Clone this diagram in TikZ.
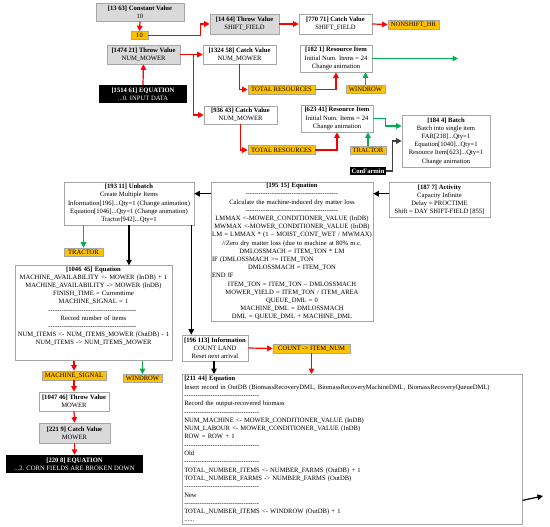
\documentclass[tikz,border=0pt]{standalone}
\usepackage{fontspec}
\setmainfont{Liberation Serif}
\usetikzlibrary{arrows.meta,calc}
\definecolor{boxgray}{HTML}{D9D9D9}
\definecolor{edgegray}{HTML}{A6A6A6}
\definecolor{tagorange}{HTML}{FFC000}
\definecolor{arrred}{HTML}{FF0000}
\definecolor{arrgreen}{HTML}{00B050}
\definecolor{arrdark}{HTML}{404040}
\newcommand\dl[1]{\noindent\hbox to #1pt{\leaders\hbox{-}\hfill}}
\newcommand\myleftln[1]{\noindent\hbox to \hsize{#1\hfil}}
\tikzset{
  sz/.style 2 args={minimum width=#1pt,minimum height=#2pt},
  base/.style={draw=edgegray, line width=0.6pt, inner sep=1pt, align=center,
    font=\fontsize{6.6}{8.2}\selectfont},
  gbox/.style={base, fill=boxgray},
  wbox/.style={base, fill=white},
  tag/.style={base, fill=tagorange, inner sep=0.5pt},
  bbox/.style={fill=black, text=white, inner sep=1pt, align=center,
    font=\fontsize{6.6}{8.2}\selectfont},
  conn/.style={line width=1.2pt, -{Triangle[length=5.5pt,width=5.5pt]}},
  ra/.style={conn, draw=arrred},
  ga/.style={conn, draw=arrgreen},
  ka/.style={conn, draw=black},
  da/.style={conn, draw=arrdark},
}
\begin{document}
\begin{tikzpicture}[x=1pt,y=-1pt]
\useasboundingbox (0,0) rectangle (550,527);
% top chain
\node[gbox, sz={88}{18}] (cv) at (140,12) {\textbf{[13 63] Constant Value}\\10};
\node[tag, sz={17}{8}] (ten) at (139.5,35.5) {10};
\node[gbox, sz={69}{20}] (tv14) at (244.5,24) {\textbf{[14 64] Throw Value}\\SHIFT\_FIELD};
\node[wbox, sz={73}{20}] (cv770) at (335.5,24) {\textbf{[770 71] Catch Value}\\SHIFT\_FIELD};
\node[tag, sz={51}{9}] (nonshift) at (413.5,24.5) {NONSHIFT\_HR};
% mower
\node[gbox, sz={73}{19}] (tv1474) at (143.5,54.5) {\textbf{[1474 21] Throw Value}\\NUM\_MOWER};
\node[bbox, sz={88}{18}] (eq1514) at (143,94) {\textbf{[1514 61] EQUATION}\\...0. INPUT DATA};
\node[wbox, sz={73}{19}] (cv1324) at (239.5,54.5) {\textbf{[1324 58] Catch Value}\\NUM\_MOWER};
\node[tag, sz={67}{9}] (tr1) at (281.5,89.5) {TOTAL RESOURCES};
\node[wbox, sz={72}{27}] (ri182) at (336,58.5) {\textbf{[182 1] Resource Item}\\Initial Num. Items = 24\\Change animation};
\node[tag, sz={39}{8}] (wr1) at (365.5,89.5) {WINDROW};
\node[wbox, sz={73}{18}] (cv936) at (240.5,115) {\textbf{[936 43] Catch Value}\\NUM\_MOWER};
\node[tag, sz={67}{9}] (tr2) at (281.5,150) {TOTAL RESOURCES};
\node[wbox, sz={72}{27}] (ri623) at (337,118.5) {\textbf{[623 41] Resource Item}\\Initial Num. Items = 24\\Change animation};
\node[tag, sz={36}{8}] (trac1) at (368,150) {TRACTOR};
\node[wbox, sz={88}{52}] (batch) at (446,141) {\textbf{[184 4] Batch}\\Batch into single item\\FAR[218]...Qty=1\\Equation[1040]...Qty=1\\Resource Item[623]...Qty=1\\Change animation};
\node[bbox, sz={36}{8}, inner sep=0.5pt] (confarmin) at (368,171) {\textbf{ConFarmin}};
\node[wbox, sz={101}{35}] (act187) at (439.5,199.5) {\textbf{[187 7] Activity}\\Capacity Infinite\\Delay = PROCTIME\\Shift = DAY SHIFT-FIELD [855]};
% middle
\node[wbox, sz={162}{139}, text width=160pt] (eq195) at (292,251.5) {\textbf{[195 15] Equation}\\\dl{93}\\Calculate the machine-induced dry matter loss\\\dl{93}\\LMMAX <-MOWER\_CONDITIONER\_VALUE (InDB)\\MWMAX <-MOWER\_CONDITIONER\_VALUE (InDB)\\LM = LMMAX * (1 – MOIST\_CONT\_WET / MWMAX)\\//Zero dry matter loss (due to machine at 80\% m.c.\\DMLOSSMACH = ITEM\_TON * LM\\\myleftln{IF (DMLOSSMACH >= ITEM\_TON}\\DMLOSSMACH = ITEM\_TON\\\myleftln{END IF}\\ITEM\_TON = ITEM\_TON – DMLOSSMACH\\MOWER\_YIELD = ITEM\_TON / ITEM\_AREA\\QUEUE\_DML = 0\\MACHINE\_DML = DMLOSSMACH\\DML = QUEUE\_DML + MACHINE\_DML};
\node[wbox, sz={130}{43}] (unbatch) at (129,203.5) {\textbf{[193 11] Unbatch}\\Create Multiple Items\\Information[196]...Qty=1 (Change animation)\\Equation[1046]...Qty=1 (Change animation)\\Tractor[942]...Qty=1};
\node[tag, sz={39}{8}] (trac2) at (83.5,252) {TRACTOR};
\node[wbox, sz={157}{94}, text width=155pt] (eq1046) at (93.5,313) {\textbf{[1046 45] Equation}\\MACHINE\_AVAILABILITY <- MOWER (InDB) + 1\\MACHINE\_AVAILABILITY -> MOWER (InDB)\\FINISH\_TIME = Currenttime\\MACHINE\_SIGNAL = 1\\\dl{90}\\Record number of items\\\dl{90}\\NUM\_ITEMS <- NUM\_ITEMS\_MOWER (OutDB) - 1\\NUM\_ITEMS -> NUM\_ITEMS\_MOWER\\\mbox{}\\[-2pt]\mbox{}};
\node[tag, sz={64}{9}] (msig) at (74,375.5) {MACHINE\_SIGNAL};
\node[tag, sz={39}{8}] (wr2) at (142.5,378.5) {WINDROW};
\node[wbox, sz={70}{19}] (tv1047) at (74,401.5) {\textbf{[1047 46] Throw Value}\\MOWER};
\node[gbox, sz={71}{20}] (cv221) at (74.5,433) {\textbf{[221 9] Catch Value}\\MOWER};
\node[bbox, sz={137}{18}] (eq220) at (74.5,464) {\textbf{[220 8] EQUATION}\\...2. CORN FIELDS ARE BROKEN DOWN};
\node[wbox, sz={66}{26}] (info196) at (215,348) {\textbf{[196 113] Information}\\COUNT LAND\\Reset next arrival};
\node[tag, sz={77}{9}] (count) at (311.5,348.5) {COUNT -> ITEM\_NUM};
\node[wbox, anchor=north west, sz={340}{146}, text width=336pt, align=left, inner sep=2pt,
  font=\fontsize{6.6}{8.3}\selectfont] (eq211) at (182,374) {\textbf{[211 44] Equation}\\Insert record in OutDB (BiomassRecoveryDML, BiomassRecoveryMachineDML, BiomassRecoveryQueueDML)\\\dl{76}\\Record the output-recovered biomass\\\dl{76}\\NUM\_MACHINE <- MOWER\_CONDITIONER\_VALUE (InDB)\\NUM\_LABOUR <- MOWER\_CONDITIONER\_VALUE (InDB)\\ROW = ROW + 1\\\dl{76}\\Old\\\dl{76}\\TOTAL\_NUMBER\_ITEMS <- NUMBER\_FARMS (OutDB) + 1\\TOTAL\_NUMBER\_FARMS -> NUMBER\_FARMS (OutDB)\\\dl{76}\\New\\\dl{76}\\TOTAL\_NUMBER\_ITEMS <- WINDROW (OutDB) + 1\\......};
\coordinate (gend) at (458,58.5);
\coordinate (kend) at (543,496);
\path ($(unbatch.south east)+(-3,0)$) coordinate (ubr);
\path ($(eq211.south east)+(0,-24)$) coordinate (eqr);
% connectors
\draw[ra] (cv.south) -- (ten.north);
\draw[ra] (ten.east) -- ++(52,0) |- (tv14.west);
\draw[ra] (tv14.east) -- (cv770.west);
\draw[ra] (cv770.east) -- (nonshift.west);
\draw[ra] (eq1514.north) -- (tv1474.south);
\draw[ra] (tv1474.east) -- (cv1324.west);
\draw[ra] (tv1474.east) -- ++(13,0) |- (cv936.west);
\draw[ra] (cv1324.south) |- (tr1.west);
\draw[ra] (tr1.east) -| (ri182.south);
\draw[ga] (wr1.north) -- (wr1.north |- ri182.south);
\draw[ga] (ri182.east) -- (gend);
\draw[ra] (cv936.south) |- (tr2.west);
\draw[ra] (tr2.east) -| (ri623.south);
\draw[ga] (trac1.north) -- (trac1.north |- ri623.south);
\draw[ga] (ri623.east) -- ++(12,0) |- ($(batch.west)+(0,-15)$);
\draw[da] (confarmin.east) -- ++(6,0) |- (batch.west);
\draw[ka] ($(act187.north west)+(0,12)$) -- ($(eq195.north east)+(0,12)$);
\draw[ka] ($(eq195.north west)+(0,12)$) -- ($(unbatch.north east)+(0,12)$);
\draw[ga] (trac2.north |- unbatch.south) -- (trac2.north);
\draw[ka] (unbatch.south) -- (unbatch.south |- eq1046.north);
\draw[ka] (ubr) -- (ubr |- info196.north);
\draw[ra] (msig.north |- eq1046.south) -- (msig.north);
\draw[ga] (wr2.north |- eq1046.south) -- (wr2.north);
\draw[ra] (msig.south) -- (tv1047.north);
\draw[ra] (tv1047.south) -- (cv221.north);
\draw[ra] (cv221.south) -- (eq220.north);
\draw[ra] (info196.east) -- (count.west);
\draw[ka] ([xshift=-1pt]info196.south) -- ([xshift=-1pt]info196.south |- eq211.north);
\draw[ra] (count.south) -- (count.south |- eq211.north);
\draw[ka] (eqr) -- (kend);
\end{tikzpicture}
\end{document}
